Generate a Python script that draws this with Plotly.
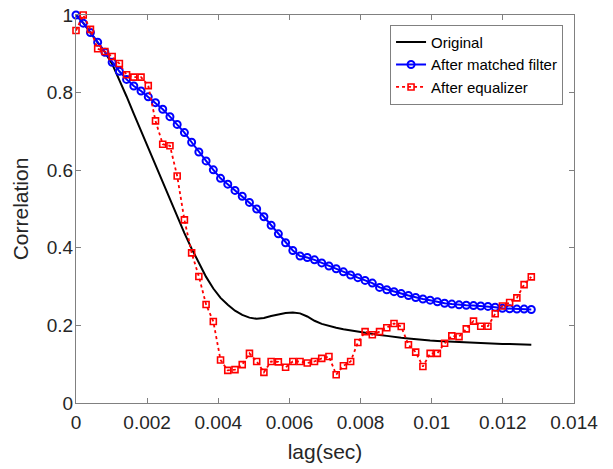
import numpy as np
import plotly.graph_objects as go

# ---- data ----
n_lags = 64
lag_max = 0.0128
lag = np.linspace(0, lag_max, n_lags)

original = [1.0, 0.980, 0.954, 0.929, 0.904, 0.874, 0.834, 0.790, 0.745, 0.701,
            0.656, 0.612, 0.567, 0.525, 0.481, 0.438, 0.398, 0.360, 0.325, 0.295,
            0.271, 0.253, 0.238, 0.227, 0.220, 0.217, 0.219, 0.224, 0.229, 0.232,
            0.233, 0.231, 0.223, 0.212, 0.204, 0.198, 0.194, 0.190, 0.187, 0.183,
            0.180, 0.177, 0.175, 0.173, 0.170, 0.168, 0.166, 0.164, 0.163, 0.161,
            0.160, 0.159, 0.158, 0.157, 0.156, 0.155, 0.154, 0.153, 0.153, 0.152,
            0.152, 0.151, 0.151, 0.150]

matched = [1.0, 0.979, 0.955, 0.930, 0.904, 0.878, 0.855, 0.834, 0.817, 0.804,
           0.789, 0.774, 0.757, 0.738, 0.718, 0.697, 0.672, 0.647, 0.624, 0.601,
           0.579, 0.564, 0.548, 0.533, 0.517, 0.500, 0.480, 0.458, 0.436, 0.413,
           0.393, 0.379, 0.375, 0.369, 0.361, 0.353, 0.346, 0.338, 0.330, 0.323,
           0.316, 0.309, 0.298, 0.292, 0.287, 0.282, 0.277, 0.272, 0.268, 0.265,
           0.261, 0.257, 0.255, 0.253, 0.252, 0.251, 0.250, 0.249, 0.247, 0.244,
           0.243, 0.242, 0.242, 0.241]

equalizer = [0.960, 1.0, 0.963, 0.913, 0.906, 0.893, 0.875, 0.846, 0.840, 0.840,
             0.818, 0.727, 0.667, 0.663, 0.585, 0.472, 0.387, 0.326, 0.254, 0.210,
             0.111, 0.084, 0.086, 0.099, 0.128, 0.107, 0.079, 0.107, 0.106, 0.092,
             0.107, 0.107, 0.103, 0.107, 0.115, 0.120, 0.073, 0.096, 0.107, 0.156,
             0.184, 0.176, 0.184, 0.194, 0.205, 0.197, 0.150, 0.131, 0.094, 0.128,
             0.128, 0.154, 0.173, 0.171, 0.191, 0.211, 0.198, 0.198, 0.230, 0.250,
             0.259, 0.271, 0.305, 0.325]

x_ticks = [0, 0.002, 0.004, 0.006, 0.008, 0.010, 0.012, 0.014]
x_tick_text = ["0", "0.002", "0.004", "0.006", "0.008", "0.01", "0.012", "0.014"]
y_ticks = [0, 0.2, 0.4, 0.6, 0.8, 1.0]
y_tick_text = ["0", "0.2", "0.4", "0.6", "0.8", "1"]

FONT = "Liberation Sans, Arial, Helvetica, sans-serif"
TXT = "#262626"
AX = "#808080"

fig = go.Figure()
fig.add_trace(go.Scatter(x=lag, y=original, mode="lines", name="Original",
                         line=dict(color="black", width=2), cliponaxis=False))
fig.add_trace(go.Scatter(x=lag, y=matched, mode="lines+markers", name="After matched filter",
                         line=dict(color="#0000FF", width=2),
                         marker=dict(symbol="circle-open", size=7, color="#0000FF",
                                     line=dict(width=2, color="#0000FF")),
                         cliponaxis=False))
fig.add_trace(go.Scatter(x=lag, y=equalizer, mode="lines+markers", name="After equalizer",
                         line=dict(color="#FF0000", width=1.8, dash="dot"),
                         marker=dict(symbol="square-open", size=6, color="#FF0000",
                                     line=dict(width=1.6, color="#FF0000")),
                         cliponaxis=False))

fig.update_layout(
    width=613, height=469,
    margin=dict(l=76, r=39, t=15, b=66, autoexpand=False),
    paper_bgcolor="white", plot_bgcolor="white",
    font=dict(family=FONT, color=TXT),
    showlegend=True,
    legend=dict(x=0.978, y=0.975, xanchor="right", yanchor="top",
                bgcolor="white", bordercolor=AX, borderwidth=1,
                font=dict(family=FONT, size=15, color="black"),
                itemwidth=30, tracegroupgap=0),
    xaxis=dict(range=[0, 0.014], tickvals=x_ticks, ticktext=x_tick_text,
               ticks="inside", ticklen=5, tickcolor=AX, showline=True, linecolor=AX,
               linewidth=1, mirror="ticks", showgrid=False, zeroline=False,
               automargin=False,
               tickfont=dict(size=19, color=TXT), ticklabelstandoff=2,
               title=dict(text="lag(sec)", font=dict(size=21, color=TXT), standoff=12)),
    yaxis=dict(range=[0, 1], tickvals=y_ticks, ticktext=y_tick_text,
               ticks="inside", ticklen=5, tickcolor=AX, showline=True, linecolor=AX,
               linewidth=1, mirror="ticks", showgrid=False, zeroline=False,
               automargin=False,
               tickfont=dict(size=19, color=TXT), ticklabelstandoff=-2,
               title=dict(text="Correlation", font=dict(size=21, color=TXT), standoff=12)),
)

fig.write_html("out.html", config={"displayModeBar": False},
               post_script="document.body.style.margin='0';")
